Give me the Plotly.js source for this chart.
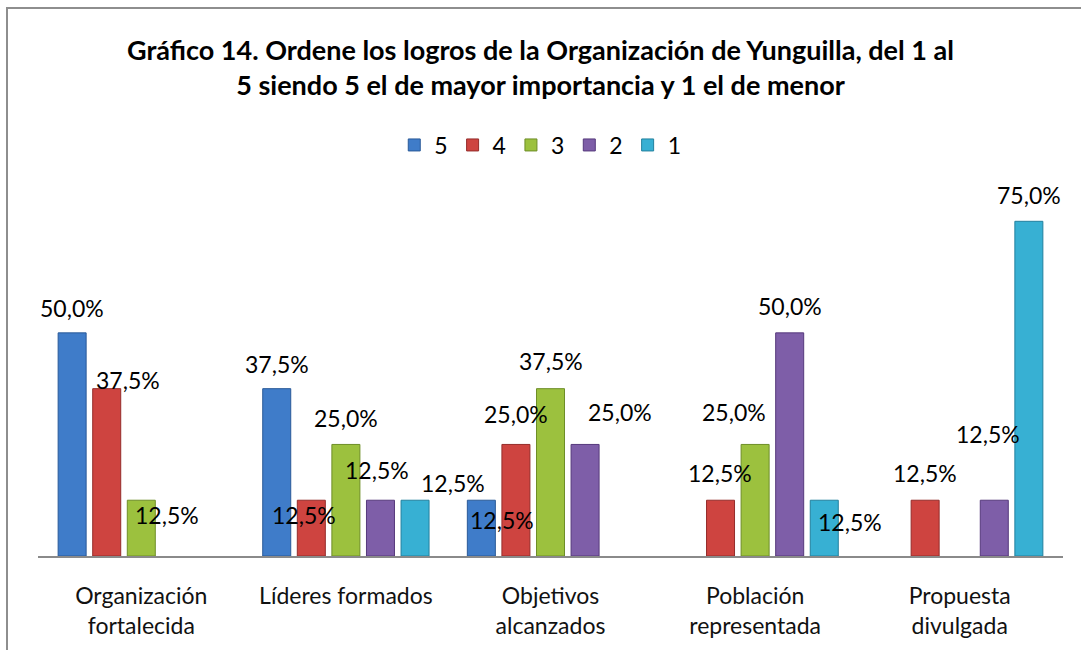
<!DOCTYPE html>
<html>
<head>
<meta charset="utf-8">
<script src="https://cdn.plot.ly/plotly-3.0.1.min.js"></script>
<style>
  html, body { margin:0; padding:0; background:#fff; overflow:hidden; }
  #chart { width:1081px; height:650px; }
  #frame { position:absolute; left:6px; top:7px; width:1200px; height:800px;
           border-left:2px solid #8e8e8e; border-top:2px solid #8e8e8e; pointer-events:none; }
</style>
</head>
<body>
<div id="chart"></div>
<div id="frame"></div>
<script>
// ---- data ----
const categories = ["Organización<br>fortalecida", "Líderes formados", "Objetivos<br>alcanzados", "Población<br>representada", "Propuesta<br>divulgada"];
const seriesNames = ["5", "4", "3", "2", "1"];
const values5 = [50.0, 37.5, 12.5, null, null];
const values4 = [37.5, 12.5, 25.0, 12.5, 12.5];
const values3 = [12.5, 25.0, 37.5, 25.0, null];
const values2 = [null, 12.5, 25.0, 50.0, 12.5];
const values1 = [null, 12.5, null, 12.5, 75.0];
const titleText = "Gráfico 14. Ordene los logros de la Organización de Yunguilla, del 1 al<br>5 siendo 5 el de mayor importancia y 1 el de menor";

// ---- style ----
const allValues = [values5, values4, values3, values2, values1];
const colors = ["#3F7CC9", "#CE4440", "#9CC13E", "#7E5EA8", "#37B0D3"];
const edges  = ["#2A5A98", "#952C2A", "#6E8E27", "#56397C", "#22809E"];
// label offsets (px) relative to top-centre of each bar: [dx, dy]
const labelOffsets = [
  [[0,25],[0,25],[21,-20],null,null],
  [[21,9],[-7,-15],[0,30],[0,27],[0,27]],
  [[26,-15],[0,26],[0,28],[-21,32],null],
  [null,[-4,30],[35,32],[0,27],[-6,66]],
  [null,[38,17],null,[26,-22],[0,26]]
];

const margin = {l:38, r:18, t:199, b:94};
const bargap = 0.155, bargroupgap = 0.19;
const plotW = 1081 - margin.l - margin.r;
const catW = plotW / categories.length;
const barStep = catW * (1 - bargap) / seriesNames.length;

const fmt = v => v.toFixed(1).replace('.', ',') + '%';
const fontFam = "Lato, 'Open Sans', sans-serif";

const traces = seriesNames.map((name, i) => ({
  type: 'bar',
  name: name,
  x: categories,
  y: allValues[i],
  marker: { color: colors[i], line: { color: edges[i], width: 1 } },
  hoverinfo: 'skip'
}));

const annotations = [];
seriesNames.forEach((name, i) => {
  allValues[i].forEach((v, j) => {
    if (v === null || v === undefined) return;
    const off = labelOffsets[i][j] || [0, 26];
    annotations.push({
      x: categories[j], y: v, xref: 'x', yref: 'y',
      text: fmt(v), showarrow: false,
      xanchor: 'center', yanchor: 'middle',
      xshift: (i - 2) * barStep + off[0],
      yshift: off[1],
      font: { family: fontFam, size: 23, color: '#000' }
    });
  });
});

const layout = {
  width: 1081, height: 650,
  margin: margin,
  paper_bgcolor: '#fff', plot_bgcolor: '#fff',
  barmode: 'group', bargap: bargap, bargroupgap: bargroupgap,
  title: { text: titleText, x: 0.5, xref: 'container', y: 0.908, yref: 'container', yanchor: 'middle',
           font: { family: fontFam, size: 27, color: '#000', weight: 'bold' } },
  showlegend: true,
  legend: { orientation: 'h', x: 0.49, xanchor: 'center', y: 1 + (199 - 145) / 357, yanchor: 'middle',
            font: { family: fontFam, size: 23, color: '#000' }, traceorder: 'normal',
            itemwidth: 30 },
  xaxis: { showline: true, linecolor: '#8a8a8a', linewidth: 2, ticks: '', showgrid: false,
           tickfont: { family: fontFam, size: 23, color: '#111' }, ticklabelstandoff: 18, fixedrange: true },
  yaxis: { visible: false, range: [0, 80], showgrid: false, zeroline: false, fixedrange: true },
  annotations: annotations
};

Plotly.newPlot('chart', traces, layout, { displayModeBar: false, staticPlot: true });
</script>
</body>
</html>
